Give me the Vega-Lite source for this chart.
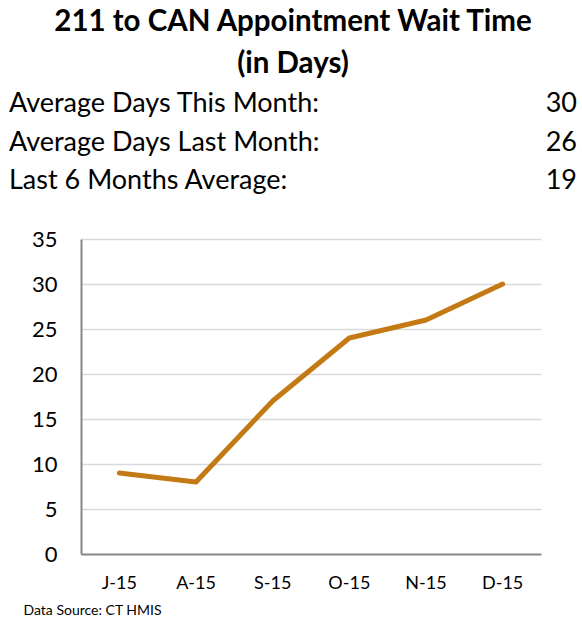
{
  "$schema": "https://vega.github.io/schema/vega-lite/v6.json",
  "background": "white",
  "padding": {"left": 9, "right": 5, "top": 6, "bottom": 0},
  "title": {
    "text": ["211 to CAN Appointment Wait Time", "(in Days)"],
    "font": "Lato",
    "fontSize": 29.5,
    "fontWeight": "bold",
    "lineHeight": 42,
    "color": "black",
    "anchor": "middle",
    "offset": 11
  },
  "spacing": 19,
  "vconcat": [
    {
      "width": 460,
      "height": 115.5,
      "data": {"values": [
        {"label": "Average Days This Month:", "value": 30},
        {"label": "Average Days Last Month:", "value": 26},
        {"label": "Last 6 Months Average:", "value": 19}
      ]},
      "encoding": {
        "y": {"field": "label", "type": "ordinal", "sort": null, "scale": {"type": "point", "padding": 0.5}, "axis": null}
      },
      "layer": [
        {
          "mark": {"type": "text", "align": "left", "baseline": "alphabetic", "font": "Lato", "fontSize": 27, "color": "black", "dx": -72},
          "encoding": {
            "x": {"datum": 0, "type": "quantitative", "scale": {"domain": [0, 1]}, "axis": null},
            "text": {"field": "label"}
          }
        },
        {
          "mark": {"type": "text", "align": "right", "baseline": "alphabetic", "font": "Lato", "fontSize": 27, "color": "black", "dx": 36},
          "encoding": {
            "x": {"datum": 1, "type": "quantitative", "scale": {"domain": [0, 1]}, "axis": null},
            "text": {"field": "value"}
          }
        }
      ]
    },
    {
      "width": 460,
      "height": 315,
      "data": {"values": [
        {"month": "J-15", "days": 9},
        {"month": "A-15", "days": 8},
        {"month": "S-15", "days": 17},
        {"month": "O-15", "days": 24},
        {"month": "N-15", "days": 26},
        {"month": "D-15", "days": 30}
      ]},
      "mark": {"type": "line", "color": "#C47A14", "strokeWidth": 5, "strokeCap": "round", "strokeJoin": "round"},
      "encoding": {
        "x": {
          "field": "month", "type": "ordinal", "sort": null,
          "scale": {"type": "band", "paddingInner": 0, "paddingOuter": 0},
          "axis": {
            "title": "Data Source: CT HMIS",
            "titleFont": "Lato", "titleFontSize": 14, "titleFontWeight": "normal", "titleColor": "black",
            "titleAlign": "left", "titleBaseline": "alphabetic", "titleX": -58, "titleY": 60,
            "labelAngle": 0, "labelFont": "Lato", "labelFontSize": 18, "labelColor": "black", "labelPadding": 20,
            "ticks": false, "grid": false, "domainColor": "#898989", "domainWidth": 2
          }
        },
        "y": {
          "field": "days", "type": "quantitative",
          "scale": {"domain": [0, 35], "nice": false},
          "axis": {
            "title": null, "values": [0, 5, 10, 15, 20, 25, 30, 35],
            "labelFont": "Lato", "labelFontSize": 22, "labelColor": "black", "labelPadding": 24,
            "ticks": false, "grid": true, "gridColor": "#d9d9d9", "gridWidth": 1.5,
            "domainColor": "#868686", "domainWidth": 2
          }
        }
      }
    }
  ],
  "config": {"view": {"stroke": null}}
}
